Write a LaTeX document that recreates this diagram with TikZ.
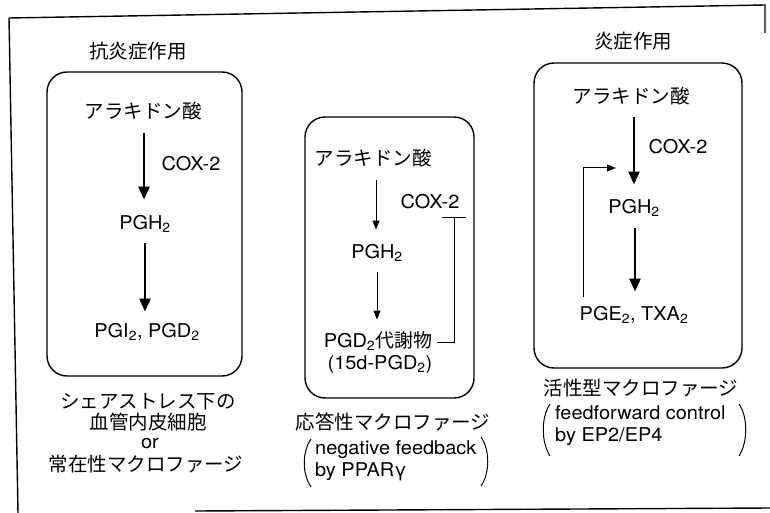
\documentclass[tikz,border=0pt]{standalone}
\usepackage{fontspec}
\setmainfont{TeX Gyre Heros}[FakeStretch=1.05]
\newfontfamily\jp{Noto Sans CJK JP}
\usetikzlibrary{arrows.meta}
\newcommand\lo[1]{\textsubscript{#1}}
\begin{document}
\begin{tikzpicture}[x=1pt,y=-1pt,
  lat/.style={font=\fontsize{19}{21}\selectfont, inner sep=0pt, text height=13.5pt, text depth=3pt},
  cjk/.style={font=\fontsize{19.5}{21}\selectfont\jp, inner sep=0pt, text height=17pt, text depth=3pt},
  boxr/.style={draw, line width=1.4pt, rounded corners=20pt},
  bigarr/.style={line width=2.5pt, -{Triangle[length=13pt,width=11pt]}},
  smallarr/.style={line width=1pt, -{Triangle[length=9pt,width=7pt]}},
  inh/.style={line width=1pt, -{Bar[width=24pt,line width=1.1pt]}},
  frameline/.style={line width=1.4pt},
  paren/.style={line width=1pt}
]
\useasboundingbox (0,0) rectangle (770,513);
% outer frame
\draw[frameline] (9,18) -- (765,5) -- (765,33);
\draw[frameline] (9,18) -- (18,513);
\draw[frameline] (195,511) -- (770,508);

% titles
\node[cjk] (t1) at (138,52) {抗炎症作用};
\node[cjk] (t3) at (633,42) {炎症作用};

% boxes
\draw[boxr] (47,72) rectangle (242,376);
\draw[boxr] (305,117) rectangle (474,398);
\draw[boxr] (534,63) rectangle (742,368);

% left box
\node[cjk] (a1) at (143,112) {アラキドン酸};
\node[lat] (cox1) at (191,165) {COX-2};
\node[lat] (b1) at (145,224) {PGH\lo{2}};
\node[lat] (c1) at (147,332) {PGI\lo{2}, PGD\lo{2}};
\draw[bigarr, shorten <=11pt, shorten >=16pt] ([xshift=1pt]a1.south) -- ([xshift=1pt]a1.south |- b1.north);
\draw[bigarr, shorten <=11pt, shorten >=12pt] (b1.south) -- (b1.south |- c1.north);

% middle box
\node[cjk] (a2) at (373,159) {アラキドン酸};
\node[lat] (cox2) at (430,203) {COX-2};
\node[lat] (b2) at (377,253) {PGH\lo{2}};
\node[lat] (c2) at (378,342) {PGD\lo{2}{\jp 代謝物}};
\node[lat] (d2) at (380,364) {(15d-PGD\lo{2})};
\draw[smallarr, shorten <=11pt, shorten >=15pt] ([xshift=3pt]a2.south) -- ([xshift=3pt]a2.south |- b2.north);
\draw[smallarr, shorten <=11pt, shorten >=14pt] (b2.south) -- (b2.south |- c2.north);
\coordinate (barpt) at (454,217);
\draw[inh, shorten <=5pt] (c2.east) -| (barpt);

% right box
\node[cjk] (a3) at (631,97) {アラキドン酸};
\node[lat] (cox3) at (678,148) {COX-2};
\node[lat] (b3) at (634,208) {PGH\lo{2}};
\node[lat] (c3) at (634,315) {PGE\lo{2}, TXA\lo{2}};
\draw[bigarr, shorten <=10pt, shorten >=15pt] ([xshift=3pt]a3.south) -- ([xshift=3pt]a3.south |- b3.north);
\draw[bigarr, shorten <=12pt, shorten >=15pt] ([xshift=1pt]b3.south) -- ([xshift=1pt]b3.south |- c3.north);
\coordinate (ffs) at (583,297);
\coordinate (ffe) at (616,168);
\draw[smallarr] (ffs) |- (ffe);

% captions
\node[cjk] (l1) at (148,401) {シェアストレス下の};
\node[cjk] (l2) at (148,422) {血管内皮細胞};
\node[lat] (l3) at (150,443) {or};
\node[cjk] (l4) at (146,464) {常在性マクロファージ};

\node[cjk] (m1) at (393,422) {応答性マクロファージ};
\node[lat, anchor=west] (m2) at (315,449) {negative feedback};
\node[lat, anchor=west] (m3) at (315,471) {by PPARγ};
\draw[paren] (311,439) .. controls (302,452) and (302,474) .. (311,487);
\draw[paren] (481,437) .. controls (490,450) and (490,473) .. (481,486);

\node[cjk] (r1) at (641,388) {活性型マクロファージ};
\node[lat, anchor=west] (r2) at (555,414) {feedforward control};
\node[lat, anchor=west] (r3) at (555,436) {by EP2/EP4};
\draw[paren] (550,404) .. controls (541,417) and (541,442) .. (550,456);
\draw[paren] (739,404) .. controls (748,417) and (748,442) .. (739,456);
\end{tikzpicture}
\end{document}
